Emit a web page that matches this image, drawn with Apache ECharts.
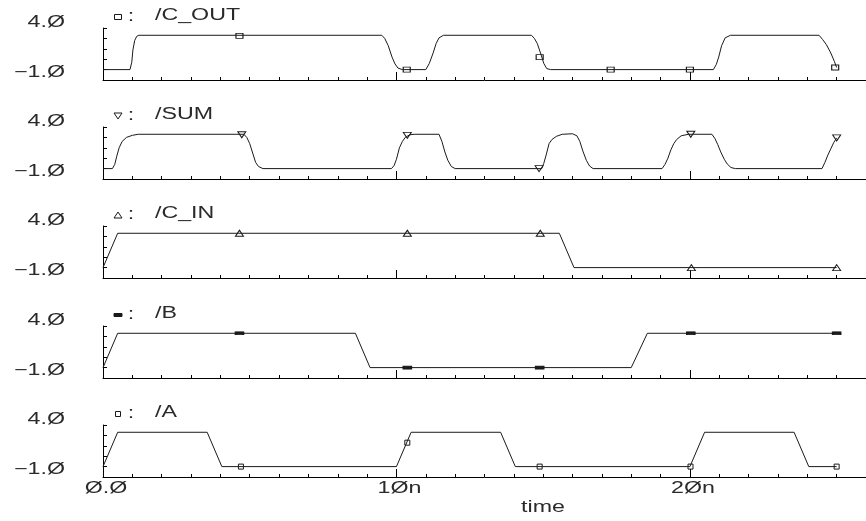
<!DOCTYPE html>
<html>
<head>
<meta charset="utf-8">
<script src="https://cdn.jsdelivr.net/npm/echarts@6/dist/echarts.min.js"></script>
<style>
  html, body { margin: 0; padding: 0; background: #fff; }
  #chart { width: 866px; height: 521px; }
</style>
</head>
<body>
<div id="chart"></div>
<script>
// Full-adder transient run: node voltages (V) versus time (ns), one strip per node.

const signalNames = ['/C_OUT', '/SUM', '/C_IN', '/B', '/A'];

// waveform samples: [time ns, volts]
const cOut = [[0,0],[0.92,0],[0.98,0.7],[1.02,1.9],[1.08,2.8],[1.15,3.2],[1.22,3.3],
  [9.5,3.3],[9.6,3.0],[9.72,2.3],[9.85,1.2],[9.95,0.55],[10.05,0.15],[10.2,0],
  [11.0,0],[11.12,0.6],[11.25,1.6],[11.35,2.5],[11.45,3.05],[11.6,3.3],
  [14.6,3.3],[14.7,3.0],[14.8,2.5],[14.92,1.5],[15.02,0.6],[15.12,0.1],[15.25,0],
  [20.8,0],[20.9,0.5],[20.98,1.2],[21.08,2.3],[21.2,3.05],[21.38,3.3],
  [24.4,3.3],[24.52,2.9],[24.65,2.4],[24.8,1.6],[24.92,0.8],[25.0,0.2]];

const sum = [[0,0],[0.32,0],[0.4,0.4],[0.47,1.2],[0.55,2.0],[0.65,2.6],[0.8,3.0],[1.0,3.2],[1.2,3.3],
  [4.8,3.3],[4.9,3.0],[5.0,2.4],[5.1,1.5],[5.2,0.6],[5.3,0.2],[5.45,0],
  [9.83,0],[9.92,0.3],[10.0,0.9],[10.1,2.0],[10.2,2.6],[10.3,3.0],[10.45,3.25],[10.6,3.3],
  [11.45,3.3],[11.55,2.6],[11.65,1.6],[11.75,0.8],[11.87,0.2],[12.0,0],
  [14.95,0],[15.02,0.5],[15.1,1.3],[15.2,2.4],[15.3,2.8],[15.45,3.1],[15.65,3.3],[16.0,3.35],
  [16.15,3.15],[16.25,2.6],[16.35,1.7],[16.47,0.8],[16.58,0.25],[16.7,0],
  [19.05,0],[19.15,0.4],[19.25,1.0],[19.35,1.8],[19.45,2.4],[19.55,2.8],[19.7,3.15],[19.95,3.3],
  [20.75,3.3],[20.85,2.9],[20.95,2.3],[21.05,1.6],[21.17,0.9],[21.27,0.45],[21.4,0.1],[21.55,0],
  [24.5,0],[24.6,0.6],[24.7,1.3],[24.8,1.9],[24.9,2.5],[25.0,2.95]];

const cIn = [[0,0],[0.5,3.3],[15.55,3.3],[16.05,0],[25,0]];

const inB = [[0,0],[0.5,3.3],[8.6,3.3],[9.1,0],[18.0,0],[18.55,3.3],[25,3.3]];

const inA = [[0,0],[0.5,3.3],[3.55,3.3],[4.05,0],[10.0,0],[10.5,3.3],[13.55,3.3],[14.05,0],
  [20.0,0],[20.5,3.3],[23.55,3.3],[24.05,0],[25,0]];

// marker positions drawn along each trace
const cOutMarks = [[4.65,3.25],[10.35,0],[14.88,1.2],[17.3,0],[20.0,0],[24.95,0.2]];
const sumMarks  = [[4.73,3.25],[10.37,3.2],[14.86,0],[20.03,3.3],[25.0,2.95]];
const cInMarks  = [[4.65,3.3],[10.37,3.3],[14.9,3.3],[20.05,0],[25,0]];
const bMarks    = [[4.65,3.3],[10.37,0],[14.88,0],[20.03,3.3],[25,3.3]];
const aMarks    = [[4.7,0],[10.37,2.3],[14.88,0],[20.02,0],[25,0]];

// axis ranges and tick labels
const yRange = [-1, 4];
const yTickLabels = [[-1, '\u22121.Ø'], [4, '4.Ø']];
const xRange = [0, 26];
const xTickLabels = [[0, 'Ø.Ø'], [10, '1Øn'], [20, '2Øn']];
const xAxisTitle = 'time';

const traces = [cOut, sum, cIn, inB, inA];
const marks = [cOutMarks, sumMarks, cInMarks, bMarks, aMarks];

// layout
const gridTops = [28, 127, 226, 326, 425];
const gridH = 52;
const gridLeft = 103;
const ink = '#1a1a1a';
const textInk = '#2a2a2a';
const FONT = '"Liberation Sans", Arial, sans-serif';
const STRETCH = 1.45;

const markerStyles = [
  { symbol: 'rect', symbolSize: [7, 5], rotate: 0, fill: 'rgba(0,0,0,0)' },
  { symbol: 'triangle', symbolSize: [8, 6], rotate: 180, fill: 'rgba(0,0,0,0)' },
  { symbol: 'triangle', symbolSize: [8, 6], rotate: 0, fill: 'rgba(0,0,0,0)' },
  { symbol: 'rect', symbolSize: [8, 3], rotate: 0, fill: ink },
  { symbol: 'rect', symbolSize: [5, 5], rotate: 0, fill: 'rgba(0,0,0,0)' }
];

const chart = echarts.init(document.getElementById('chart'), null, { renderer: 'canvas' });

const grids = [], xAxes = [], yAxes = [], series = [];
gridTops.forEach((top, i) => {
  grids.push({ left: gridLeft, right: 0, top: top, height: gridH, containLabel: false });
  const common = {
    type: 'value', gridIndex: i, position: 'bottom', min: xRange[0], max: xRange[1],
    axisLabel: { show: false }, splitLine: { show: false }
  };
  // 1 ns minor ticks along the baseline
  xAxes.push(Object.assign({}, common, {
    interval: 1,
    axisLine: { show: true, onZero: false, lineStyle: { color: '#000', width: 1 } },
    axisTick: { show: true, inside: true, length: 3, lineStyle: { color: '#000', width: 1 } }
  }));
  // 10 ns major ticks
  xAxes.push(Object.assign({}, common, {
    interval: 10,
    axisLine: { show: false, onZero: false },
    axisTick: { show: true, inside: true, length: 8, lineStyle: { color: '#000', width: 1 } }
  }));
  yAxes.push({
    type: 'value', gridIndex: i, position: 'left', min: yRange[0], max: yRange[1], interval: 1,
    axisLine: { show: true, onZero: false, lineStyle: { color: '#000', width: 1 } },
    axisTick: { show: true, inside: true, length: 4, lineStyle: { color: '#000', width: 1 } },
    axisLabel: { show: false }, splitLine: { show: false }
  });
});

traces.forEach((data, i) => {
  series.push({
    type: 'line', name: signalNames[i], xAxisIndex: 2 * i, yAxisIndex: i,
    data: data, showSymbol: false, symbol: 'none', smooth: false,
    lineStyle: { color: ink, width: 1 }, silent: true, animation: false, z: 2
  });
});
marks.forEach((data, i) => {
  const m = markerStyles[i];
  series.push({
    type: 'scatter', xAxisIndex: 2 * i, yAxisIndex: i, data: data,
    symbol: m.symbol, symbolSize: m.symbolSize, symbolRotate: m.rotate,
    itemStyle: { color: m.fill, borderColor: ink, borderWidth: 1, opacity: 1 },
    silent: true, animation: false, z: 3
  });
});

chart.setOption({
  backgroundColor: '#fff',
  animation: false,
  grid: grids, xAxis: xAxes, yAxis: yAxes, series: series
});

// text helper: horizontally stretched lettering
function label(x, y, s, align, size) {
  return {
    type: 'text', x: x, y: y, scaleX: STRETCH, silent: true, z: 10,
    style: { text: s, fill: textInk, font: size + 'px ' + FONT,
             align: align, verticalAlign: 'middle', textAlign: align, textVerticalAlign: 'middle' }
  };
}

function iconShape(i, cx, cy) {
  const m = markerStyles[i];
  const w = m.symbolSize[0], h = m.symbolSize[1];
  const st = { fill: m.fill, stroke: ink, lineWidth: 1 };
  if (m.symbol === 'rect') {
    return { type: 'rect', shape: { x: cx - w / 2, y: cy - h / 2, width: w, height: h }, style: st, silent: true };
  }
  const pts = m.rotate === 180
    ? [[cx - w / 2, cy - h / 2], [cx + w / 2, cy - h / 2], [cx, cy + h / 2]]
    : [[cx - w / 2, cy + h / 2], [cx + w / 2, cy + h / 2], [cx, cy - h / 2]];
  return { type: 'polygon', shape: { points: pts }, style: st, silent: true };
}

const gfx = [];
gridTops.forEach((top, i) => {
  const bottom = top + gridH;
  // y tick labels at the ends of each strip
  yTickLabels.forEach(([v, s]) => {
    const p = chart.convertToPixel({ seriesIndex: i }, [0, v]);
    const dy = v === yRange[1] ? -5.5 : -7.5;
    gfx.push(label(65, p[1] + dy, s, 'right', 16));
  });
  // strip heading: marker glyph, colon, node name
  const ty = bottom - 64;
  gfx.push(iconShape(i, 118, ty + 1));
  gfx.push(label(131, ty + 1, ':', 'center', 16));
  gfx.push(label(155, ty, signalNames[i], 'left', 16));
});

// time labels under the bottom strip
const last = gridTops.length - 1;
xTickLabels.forEach(([t, s]) => {
  const p = chart.convertToPixel({ seriesIndex: last }, [t, yRange[0]]);
  gfx.push(label(p[0] + 3, p[1] + 12, s, 'center', 16));
});
gfx.push(label(543, 508, xAxisTitle, 'center', 16));

chart.setOption({ graphic: { elements: gfx } });
</script>
</body>
</html>
